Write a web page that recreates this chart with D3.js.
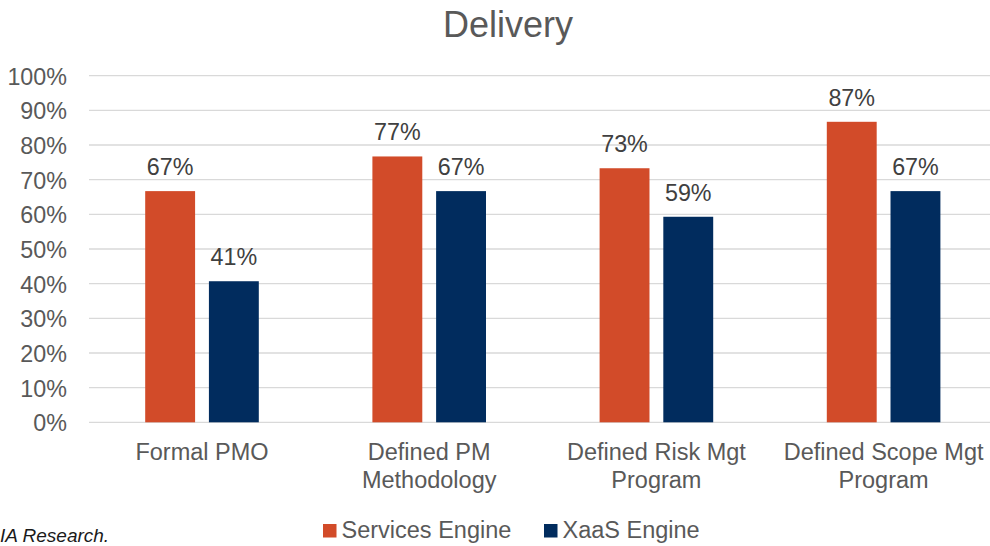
<!DOCTYPE html>
<html>
<head>
<meta charset="utf-8">
<script src="https://cdn.jsdelivr.net/npm/d3@7"></script>
<style>
  html, body { margin: 0; padding: 0; background: #fff; overflow: hidden; }
  svg { display: block; font-family: "Liberation Sans", Arial, sans-serif; }
</style>
</head>
<body>
<svg id="chart" width="990" height="546"></svg>
<script>
const categories = [["Formal PMO"], ["Defined PM", "Methodology"], ["Defined Risk Mgt", "Program"], ["Defined Scope Mgt", "Program"]];
const seriesNames = ["Services Engine", "XaaS Engine"];
const servicesValues = [0.667, 0.767, 0.733, 0.867];
const xaasValues = [0.407, 0.667, 0.593, 0.667];
const yTicks = [0, 0.1, 0.2, 0.3, 0.4, 0.5, 0.6, 0.7, 0.8, 0.9, 1.0];
const colors = ["#D24B29", "#012C5E"];

const svg = d3.select("#chart");

const y = d3.scaleLinear().domain([0, 1]).range([422.3, 75.7]);
const x0 = d3.scaleBand().domain(d3.range(categories.length)).range([88.4, 997.2]).paddingInner(0.5).paddingOuter(0.25);
const x1 = d3.scaleBand().domain(seriesNames).range([0, x0.bandwidth()]).paddingInner(0.217);

// title
svg.append("text").attr("x", 508).attr("y", 37).attr("text-anchor", "middle")
  .attr("font-size", 36).attr("fill", "#595959").text("Delivery");

// gridlines
svg.append("g").selectAll("line").data(yTicks).join("line")
  .attr("x1", 89).attr("x2", 1000)
  .attr("y1", d => y(d)).attr("y2", d => y(d))
  .attr("stroke", "#D9D9D9").attr("stroke-width", 1.3);

// y axis labels
const yAxis = d3.axisLeft(y).tickValues(yTicks).tickFormat(d3.format(".0%")).tickSize(0).tickPadding(0);
const ga = svg.append("g").attr("transform", "translate(67,0)").call(yAxis);
ga.select(".domain").remove();
ga.selectAll("text").attr("font-size", 23.3).attr("fill", "#595959")
  .attr("font-family", "'Liberation Sans', Arial, sans-serif").attr("dy", "0.36em");

// bars
const rows = categories.map((c, i) => ({ i, vals: [servicesValues[i], xaasValues[i]] }));
const groups = svg.append("g").selectAll("g").data(rows).join("g")
  .attr("transform", d => `translate(${x0(d.i)},0)`);
groups.selectAll("rect").data(d => d.vals.map((v, k) => ({ v, k }))).join("rect")
  .attr("x", d => x1(seriesNames[d.k])).attr("width", x1.bandwidth())
  .attr("y", d => y(d.v)).attr("height", d => y(0) - y(d.v))
  .attr("fill", d => colors[d.k]);
groups.selectAll("text.lbl").data(d => d.vals.map((v, k) => ({ v, k }))).join("text")
  .attr("class", "lbl")
  .attr("x", d => x1(seriesNames[d.k]) + x1.bandwidth() / 2)
  .attr("y", d => y(d.v) - 16)
  .attr("text-anchor", "middle").attr("font-size", 23.3).attr("fill", "#404040")
  .text(d => d3.format(".0%")(d.v));

// category labels
const cl = svg.append("g").selectAll("text").data(categories).join("text")
  .attr("x", (d, i) => x0(i) + x0.bandwidth() / 2).attr("y", 460)
  .attr("text-anchor", "middle").attr("font-size", 23.5).attr("fill", "#595959");
cl.selectAll("tspan").data(d => d).join("tspan")
  .attr("x", function () { return d3.select(this.parentNode).attr("x"); })
  .attr("dy", (d, j) => j === 0 ? 0 : 27.5).text(d => d);

// legend
const legX = [323, 544];
const lg = svg.append("g").selectAll("g").data(seriesNames).join("g")
  .attr("transform", (d, i) => `translate(${legX[i]},0)`);
lg.append("rect").attr("x", 0).attr("y", 524).attr("width", 13.5).attr("height", 13.5)
  .attr("fill", (d, i) => colors[i]);
lg.append("text").attr("x", 18.5).attr("y", 537.5).attr("font-size", 23.5).attr("fill", "#595959").text(d => d);

// source note
svg.append("text").attr("x", 0).attr("y", 542).attr("font-size", 19).attr("font-style", "italic")
  .attr("fill", "#1a1a1a").text("IA Research.");
</script>
</body>
</html>
